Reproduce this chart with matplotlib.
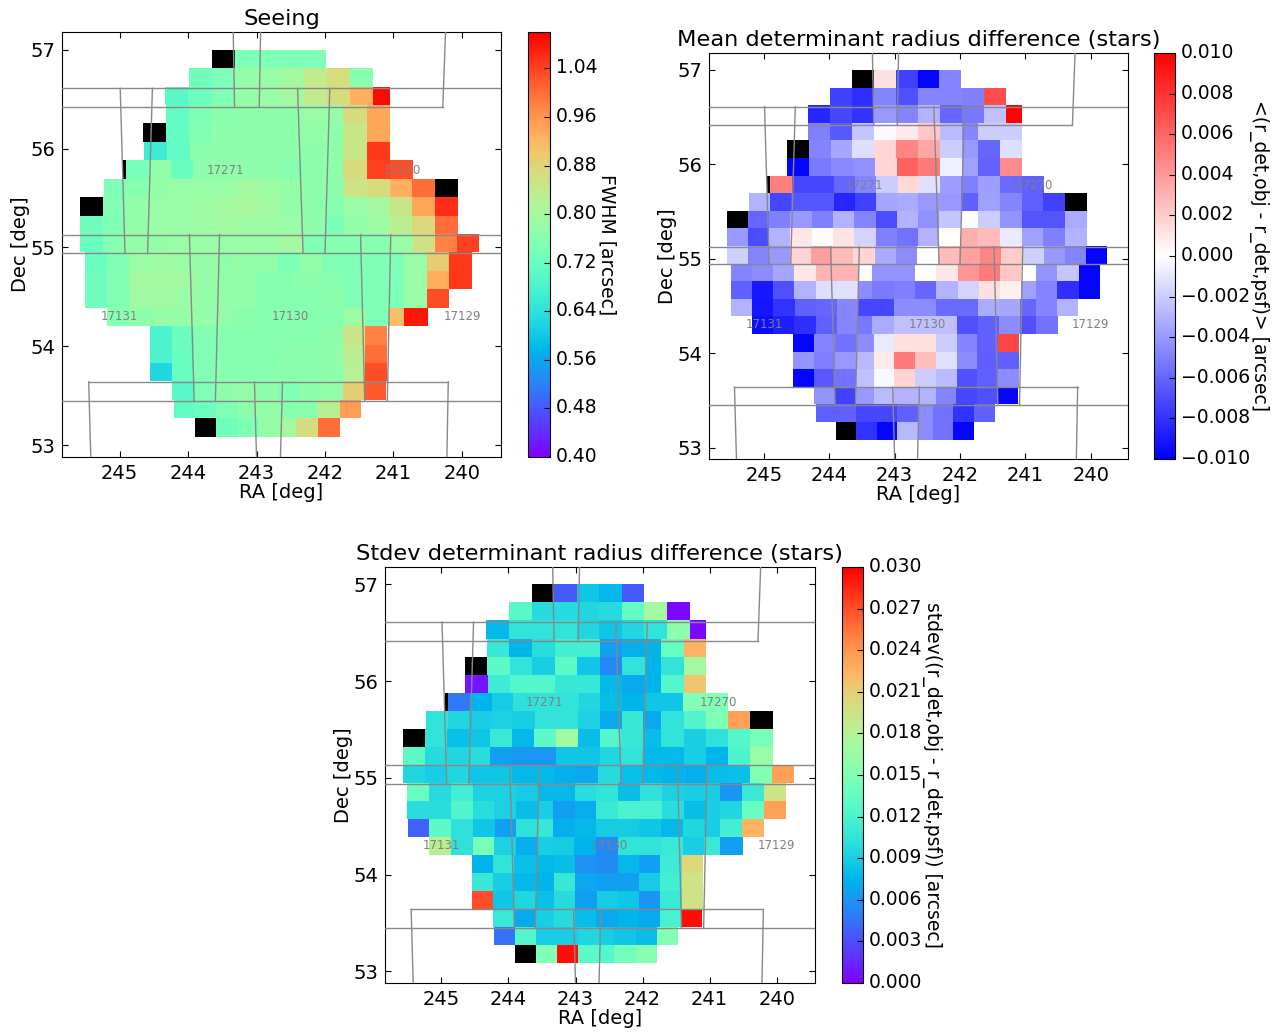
# Seeing and determinant radius maps of the survey footprint
import matplotlib

matplotlib.use("Agg")
import matplotlib.pyplot as plt
import matplotlib.transforms as mtransforms
import numpy as np

nan = np.nan

# Dec edges of the 21 map rows, top row first
dec_top = 57.0
dec_bottom = 53.085
n_rows = 21

# RA segments of every row: (RA left edge, RA right edge, number of cells)
row_segments = [
    [(243.65, 241.98, 5)],
    [(243.99, 241.30, 8)],
    [(244.33, 241.30, 9), (241.30, 241.05, 1)],
    [(244.32, 241.97, 7), (241.97, 241.73, 1), (241.73, 241.05, 2)],
    [(244.65, 241.97, 8), (241.97, 241.73, 1), (241.73, 241.05, 2)],
    [(244.64, 241.97, 8), (241.97, 241.73, 1), (241.73, 241.05, 2)],
    [(244.95, 244.90, 1), (244.90, 241.98, 9), (241.98, 241.73, 1), (241.73, 240.72, 3)],
    [(245.23, 241.99, 10), (241.99, 241.72, 1), (241.72, 240.06, 5)],
    [(245.57, 241.99, 11), (241.99, 241.72, 1), (241.72, 240.06, 5)],
    [(245.57, 241.99, 11), (241.99, 241.72, 1), (241.72, 240.06, 5)],
    [(245.57, 239.75, 18)],
    [(245.51, 243.56, 6), (243.56, 243.34, 1), (243.34, 241.06, 7), (241.06, 240.84, 1), (240.84, 239.86, 3)],
    [(245.51, 243.56, 6), (243.56, 243.34, 1), (243.34, 241.06, 7), (241.06, 240.84, 1), (240.84, 239.86, 3)],
    [(245.50, 243.56, 6), (243.56, 243.34, 1), (243.34, 241.08, 7), (241.08, 240.84, 1), (240.84, 240.19, 2)],
    [(245.18, 243.56, 5), (243.56, 243.34, 1), (243.34, 241.08, 7), (241.08, 240.84, 1), (240.84, 240.50, 1)],
    [(244.55, 243.59, 3), (243.59, 243.32, 1), (243.32, 241.10, 7)],
    [(244.55, 243.59, 3), (243.59, 243.32, 1), (243.32, 241.10, 7)],
    [(244.55, 243.59, 3), (243.59, 243.32, 1), (243.32, 241.10, 7)],
    [(244.23, 243.60, 2), (243.60, 243.32, 1), (243.32, 241.11, 7)],
    [(244.21, 242.65, 5), (242.65, 242.42, 1), (242.42, 241.47, 3)],
    [(243.90, 242.65, 4), (242.65, 242.42, 1), (242.42, 241.78, 2)],
]

seeing = [
    [nan, .745, .745, .745, .745],
    [.73, .745, .775, .785, .80, .84, .865, .76],
    [.70, .725, .75, .78, .785, .80, .84, .87, .93, 1.09],
    [.71, .745, .765, .77, .77, .77, .785, .775, .87, .94],
    [nan, .71, .755, .77, .77, .77, .77, .78, .77, .85, .94],
    [.66, .71, .765, .77, .77, .77, .77, .77, .77, .85, 1.05],
    [nan, .74, .775, .72, .77, .77, .77, .77, .76, .77, .77, .87, 1.04, 1.03],
    [.75, .76, .78, .785, .785, .785, .80, .79, .78, .77, .77, .855, .87, .93, 1.0, nan],
    [nan, .755, .775, .785, .785, .79, .80, .805, .795, .775, .77, .76, .785, .80, .85, .94, 1.06],
    [.73, .75, .775, .785, .785, .79, .795, .79, .79, .785, .77, .74, .775, .79, .83, .875, 1.0],
    [.72, .76, .775, .78, .785, .785, .785, .785, .785, .80, .75, .76, .76, .76, .785, .86, .98, 1.04],
    [.72, .75, .785, .79, .785, .78, .77, .78, .775, .745, .775, .75, .745, .745, .745, .785, .89, 1.05],
    [.73, .755, .795, .80, .795, .78, .775, .78, .76, .76, .77, .76, .75, .745, .745, .785, .93, 1.05],
    [.73, .755, .795, .795, .785, .78, .775, .775, .76, .76, .76, .77, .75, .745, .745, .785, 1.03],
    [.76, .77, .78, .78, .775, .775, .765, .76, .76, .76, .76, .79, .745, .91, 1.08],
    [.68, .72, .755, .76, .76, .76, .76, .76, .77, .85, .98],
    [.68, .72, .755, .76, .76, .76, .765, .765, .77, .83, 1.0],
    [.62, .72, .755, .76, .76, .76, .765, .765, .77, .82, 1.03],
    [.70, .745, .77, .775, .77, .75, .77, .775, .89, 1.02],
    [.71, .725, .75, .77, .78, .76, .765, .83, .95],
    [nan, .73, .745, .78, .80, .87, 1.0],
]

mean_diff = [
    [nan, .0012, -.0075, -.0098, -.0048],
    [-.0075, -.0082, -.0048, -.0068, -.0048, -.0048, -.005, .007],
    [-.0085, -.0072, -.008, -.004, -.0048, -.003, -.006, -.0053, -.0025, .0098],
    [-.005, -.0065, -.0023, -.0002, .0008, .0022, -.0027, -.0047, -.002, -.002],
    [nan, -.0048, -.0035, -.0013, .0016, .0048, .0035, -.002, -.004, -.006, -.0013],
    [-.0098, -.0052, -.0046, -.0043, .0016, .0062, .0052, -.0006, -.0037, -.0061, .0045],
    [nan, .005, -.0072, -.0072, -.006, -.0048, -.002, .0015, -.0012, -.0038, -.005, -.0038, -.0058, -.0062],
    [-.003, -.0072, -.0066, -.0066, -.0085, -.0075, -.0035, -.0033, -.004, -.004, -.0062, -.0037, -.0048, -.0062, -.0075, nan],
    [nan, -.006, -.005, -.004, -.005, -.003, -.0048, -.007, -.003, -.0043, -.0023, .0, -.002, -.0042, -.0067, -.0067, -.0033],
    [-.004, -.007, -.003, .001, -.0001, .0011, -.0017, -.005, -.0055, -.003, .0001, .0032, .0027, -.0008, -.0037, -.005, -.003],
    [-.0018, -.0048, -.004, .0017, .0038, .0027, .0017, -.0033, -.0045, .0, .0027, .0037, .0048, .002, -.0018, -.004, -.0048, -.0098],
    [-.0048, -.0045, -.0035, .001, .003, .003, -.0001, -.0042, -.0042, .0, .001, .0042, .0052, .0022, .0, -.0042, -.0022, -.0098],
    [-.0062, -.009, -.0068, -.003, -.0013, -.0012, -.0045, -.0052, -.005, -.006, -.003, -.0017, .0012, .0006, -.0037, -.0048, -.0082, -.0098],
    [-.003, -.0092, -.008, -.0062, -.006, -.0047, -.0072, -.0072, -.0045, -.0045, -.0058, -.0058, -.0033, -.0035, -.006, -.0048, -.003],
    [-.0095, -.0088, -.0082, -.0062, -.0047, -.0053, -.0033, -.0025, -.0025, -.0025, -.0068, -.0062, -.0045, -.0068, -.0055],
    [-.0098, -.0048, -.0055, -.0045, -.0008, .0012, .0012, -.002, -.0048, -.0062, .0072],
    [-.0042, -.005, -.004, -.0028, .0008, .0052, .0025, -.0012, -.0045, -.0063, -.0062],
    [-.0098, -.0065, -.0055, -.0025, -.0003, .0017, -.002, -.0027, -.0068, -.0062, -.0045],
    [-.0042, -.0075, -.004, -.0027, -.003, -.003, -.0048, -.0072, -.0068, -.0098],
    [-.0062, -.0062, -.0072, -.0072, -.0062, -.0045, -.0055, -.008, -.0062],
    [nan, -.008, -.0098, -.0028, -.0045, -.0055, -.0098],
]

stdev_diff = [
    [nan, .0035, .0085, .0078, .0035],
    [.0128, .0098, .0098, .0095, .0098, .0133, .0170, .0003],
    [.0078, .0105, .0105, .0105, .0095, .0085, .0095, .0105, .0158, .0003],
    [.0108, .0075, .0100, .0115, .0115, .0065, .0072, .0075, .0135, .0225],
    [nan, .0130, .0105, .0090, .0130, .0085, .0055, .0105, .0075, .0105, .0170],
    [.0008, .0112, .0125, .0125, .0108, .0108, .0078, .0070, .0075, .0125, .0215],
    [nan, .0048, .0075, .0088, .0103, .0105, .0105, .0095, .0080, .0075, .0085, .0085, .0150, .0150],
    [.0105, .0095, .0090, .0092, .0090, .0105, .0105, .0092, .0070, .0108, .0070, .0105, .0122, .0148, .0235, nan],
    [nan, .0105, .0082, .0085, .0110, .0078, .0130, .0170, .0080, .0125, .0108, .0080, .0105, .0090, .0102, .0125, .0145],
    [.0130, .0098, .0095, .0100, .0065, .0062, .0062, .0085, .0085, .0095, .0105, .0078, .0078, .0090, .0075, .0120, .0165],
    [.0095, .0090, .0095, .0085, .0085, .0078, .0078, .0072, .0068, .0098, .0082, .0078, .0075, .0072, .0080, .0082, .0150, .0235],
    [.0138, .0098, .0115, .0092, .0092, .0088, .0078, .0078, .0100, .0105, .0080, .0103, .0092, .0090, .0090, .0060, .0110, .0195],
    [.0100, .0100, .0122, .0100, .0092, .0080, .0090, .0065, .0072, .0110, .0120, .0118, .0100, .0080, .0090, .0095, .0135, .0235],
    [.0038, .0130, .0102, .0085, .0065, .0102, .0108, .0072, .0078, .0088, .0088, .0085, .0078, .0095, .0090, .0115, .0225],
    [.0185, .0102, .0145, .0092, .0072, .0090, .0088, .0075, .0055, .0105, .0105, .0110, .0090, .0110, .0065],
    [.0075, .0105, .0082, .0078, .0080, .0058, .0056, .0078, .0065, .0112, .0205],
    [.0108, .0090, .0078, .0075, .0108, .0068, .0065, .0065, .0088, .0115, .0195],
    [.0270, .0085, .0095, .0082, .0098, .0065, .0088, .0085, .0060, .0110, .0195],
    [.0110, .0070, .0090, .0098, .0080, .0070, .0075, .0070, .0118, .0295],
    [.0045, .0125, .0090, .0090, .0095, .0090, .0085, .0080, .0150],
    [nan, .0150, .0295, .0130, .0125, .0142, .0155],
]

# Tract and patch outlines as (RA start, RA end, Dec start, Dec end)
tract_lines = [
    (246.0, 239.0, 56.61, 56.61),
    (246.0, 240.28, 56.42, 56.42),
    (246.0, 239.0, 55.13, 55.13),
    (246.0, 239.0, 54.94, 54.94),
    (246.0, 239.0, 53.45, 53.45),
    (245.45, 240.20, 53.64, 53.64),
    (240.24, 240.28, 57.18, 56.42),
    (243.34, 243.32, 57.18, 56.42),
    (242.94, 242.96, 57.18, 56.42),
    (244.99, 244.92, 56.61, 54.94),
    (244.52, 244.59, 56.61, 54.94),
    (242.40, 242.32, 56.61, 54.94),
    (241.93, 242.00, 56.61, 54.94),
    (243.98, 243.91, 55.13, 53.45),
    (243.54, 243.60, 55.13, 53.45),
    (241.48, 241.42, 55.13, 53.45),
    (241.04, 241.09, 55.13, 53.45),
    (245.45, 245.42, 53.64, 52.88),
    (240.20, 240.22, 53.64, 52.88),
    (243.03, 243.00, 53.64, 52.88),
    (242.62, 242.65, 53.64, 52.88),
]

tract_names = ["17271", "17270", "17131", "17130", "17129"]
tract_ra = [243.46, 240.87, 245.0, 242.5, 240.0]
tract_dec = [55.78, 55.78, 54.3, 54.3, 54.3]

ra_ticks = [245, 244, 243, 242, 241, 240]
dec_ticks = [53, 54, 55, 56, 57]

W, H = 1281, 1032
fig = plt.figure(figsize=(W / 100, H / 100), dpi=100, facecolor="white")


def add_axes_px(left, top, right, bottom):
    """Make an axes from pixel bounds measured from the top left corner."""
    return fig.add_axes(
        [left / W, 1 - bottom / H, (right - left) / W, (bottom - top) / H]
    )


def draw_panel(box, cbar_box, values, cmap_name, limits, cbar_ticks, fmt, title, label, label_x, label_y):
    ax = add_axes_px(*box)
    cmap = plt.get_cmap(cmap_name).with_extremes(bad="black")
    dec_edges = np.linspace(dec_top, dec_bottom, n_rows + 1)

    mesh = None
    for i, segments in enumerate(row_segments):
        k = 0
        for ra_left, ra_right, n in segments:
            cells = np.ma.masked_invalid([values[i][k:k + n]])
            mesh = ax.pcolormesh(
                np.linspace(ra_left, ra_right, n + 1),
                [dec_edges[i + 1], dec_edges[i]],
                cells,
                cmap=cmap,
                vmin=limits[0],
                vmax=limits[1],
                antialiased=False,
                linewidth=0,
            )
            k += n

    for ra0, ra1, dec0, dec1 in tract_lines:
        ax.plot([ra0, ra1], [dec0, dec1], color="#888888", lw=1.0, zorder=3)
    for name, ra, dec in zip(tract_names, tract_ra, tract_dec):
        ax.text(ra, dec, name, color="#808080", fontsize=8.5, ha="center", va="center", zorder=4)

    ax.set_xlim(245.84, 239.43)
    ax.set_ylim(52.88, 57.18)
    ax.set_xticks(ra_ticks)
    ax.set_yticks(dec_ticks)
    ax.tick_params(direction="in", top=True, right=True, length=4, width=0.8, labelsize=14, pad=5)
    ax.set_xlabel("RA [deg]", fontsize=14, labelpad=0)
    ax.set_ylabel("Dec [deg]", fontsize=14, labelpad=0)
    ax.set_title(title, fontsize=16.2, pad=5)

    cax = add_axes_px(*cbar_box)
    cbar = fig.colorbar(mesh, cax=cax, ticks=cbar_ticks, format=lambda v, pos: (fmt % v).replace("-", "\u2212"))
    cbar.ax.tick_params(direction="in", length=4, width=0.8, labelsize=13.5, pad=4)
    # the bar labels sit a little above their ticks in the original
    up = mtransforms.ScaledTranslation(0, 2.5 / 100, fig.dpi_scale_trans)
    for tick_label in cax.get_yticklabels():
        tick_label.set_transform(tick_label.get_transform() + up)
    cbar.set_label(label, fontsize=13.5, rotation=270, va="center", ha="center")
    cax.yaxis.set_label_coords(label_x, label_y)


draw_panel(
    (62, 32, 501, 457),
    (528, 32, 550, 457),
    seeing,
    "rainbow",
    (0.40, 1.10),
    [0.40, 0.48, 0.56, 0.64, 0.72, 0.80, 0.88, 0.96, 1.04],
    "%.2f",
    "Seeing",
    "FWHM [arcsec]",
    3.6,
    0.5,
)
draw_panel(
    (709, 53, 1128, 459),
    (1154, 53, 1175, 459),
    mean_diff,
    "bwr",
    (-0.010, 0.010),
    [-0.010, -0.008, -0.006, -0.004, -0.002, 0.0, 0.002, 0.004, 0.006, 0.008, 0.010],
    "%.3f",
    "Mean determinant radius difference (stars)",
    "<(r_det,obj - r_det,psf)> [arcsec]",
    5.0,
    0.5,
)
draw_panel(
    (385, 567, 815, 983),
    (842, 567, 863, 983),
    stdev_diff,
    "rainbow",
    (0.0, 0.030),
    [0.0, 0.003, 0.006, 0.009, 0.012, 0.015, 0.018, 0.021, 0.024, 0.027, 0.030],
    "%.3f",
    "Stdev determinant radius difference (stars)",
    "stdev((r_det,obj - r_det,psf)) [arcsec]",
    4.3,
    0.5,
)

fig.savefig("out.png", dpi=100)
